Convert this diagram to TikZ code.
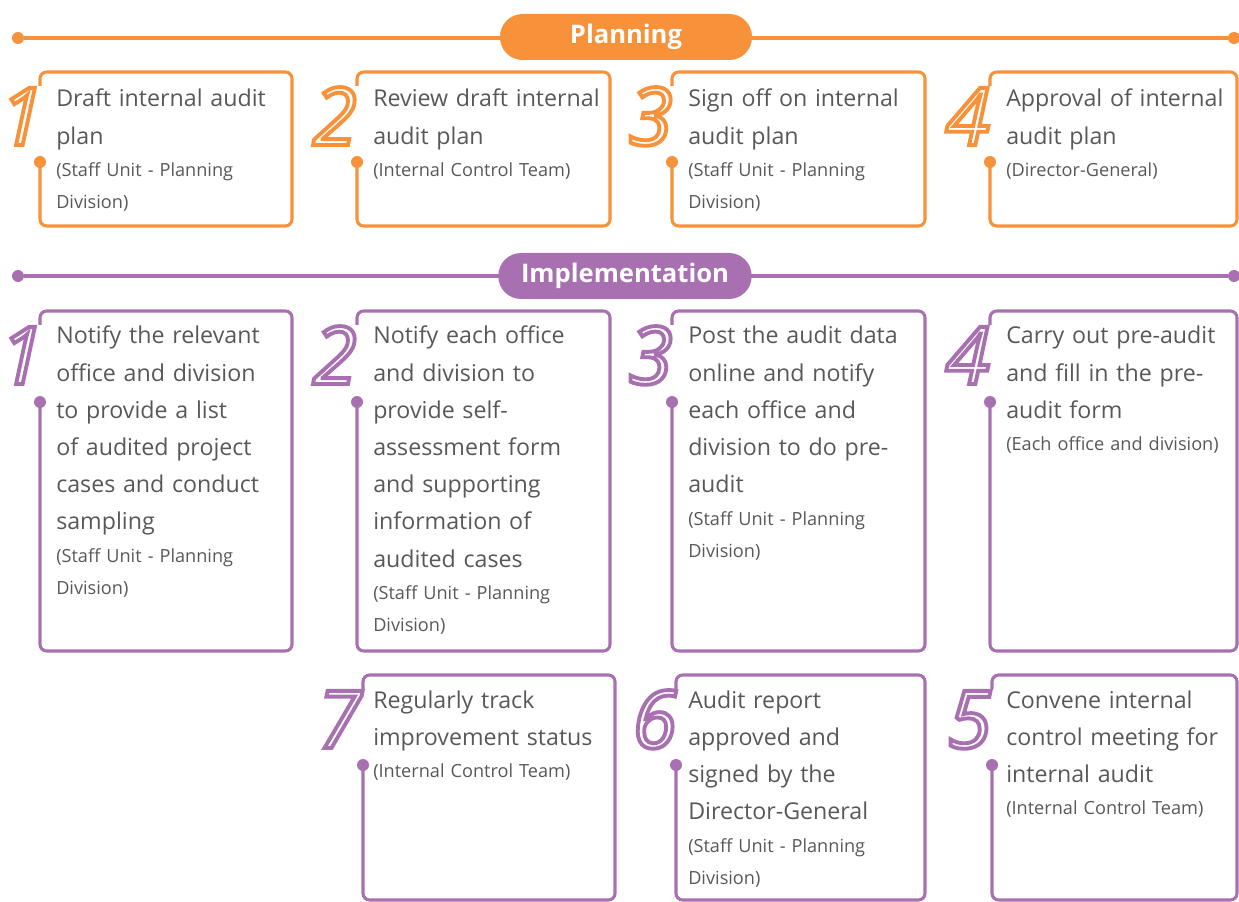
\documentclass[tikz,border=0pt]{standalone}
\usepackage{fontspec}
\setmainfont{Open Sans}
\newfontfamily\numfont{Open Sans}
\usetikzlibrary{positioning}

\definecolor{planc}{RGB}{247,146,58}
\definecolor{implc}{RGB}{168,112,176}
\definecolor{txtc}{RGB}{88,88,88}

\newcommand{\stepfont}{\fontsize{17.4}{27.9}\selectfont}
\newcommand{\whofont}{\fontsize{13.6}{24}\selectfont}
% hollow digit
\newcommand{\hollow}[1]{\special{pdf:literal direct 1 Tr 2.9 w}#1\special{pdf:literal direct 0 Tr}}
% frame of one step: colour, left, top, right, bottom, dot
\newcommand{\stepframe}[6]{%
  \draw[frame, #1] (#2,#6) -- (#2,#5) -- (#4,#5) -- (#4,#3) -- (#2,#3) -- (#2,#3+14);
  \fill[#1] (#2,#6) circle (6);}

\begin{document}
\begin{tikzpicture}[x=0.75pt, y=-0.75pt]
    \tikzstyle{frame}=[line width=2.3pt, rounded corners=5pt]
    \tikzstyle{dot}=[circle, inner sep=0pt, minimum size=9pt]
    \tikzstyle{phase}=[rectangle, rounded corners=17pt, minimum width=189pt, minimum height=34.5pt, text=white, font=\fontsize{19.2}{21}\selectfont\bfseries]
    \tikzstyle{num}=[anchor=base east, inner sep=0pt, font=\numfont\itshape\fontsize{60}{62}\selectfont]
    \tikzstyle{task}=[anchor=base west, inner sep=0pt, text width=190pt, align=left, text=txtc, font=\stepfont]
    \tikzstyle{who}=[inner sep=0pt, text width=190pt, align=left, text=txtc, font=\whofont]

    \useasboundingbox (0,0) rectangle (1239,902);
    \clip (0,0) rectangle (1239,902);

    % planning
    \node[dot, fill=planc] (pl-l) at (18,38) {};
    \node[dot, fill=planc] (pl-r) at (1234,38) {};
    \draw[planc, line width=2.3pt] (pl-l) -- (pl-r);
    \node[phase, fill=planc] (planning) at (626,37) {Planning};

    \stepframe{planc}{40}{72}{292}{226}{162}
    \stepframe{planc}{357}{72}{610}{226}{162}
    \stepframe{planc}{672}{72}{925}{226}{162}
    \stepframe{planc}{990}{72}{1237}{226}{162}

    \node[num, text=planc] (pn1) at (44,145) {\hollow{1}};
    \node[num, text=planc] (pn2) at (357,145) {\hollow{2}};
    \node[num, text=planc] (pn3) at (673,145) {\hollow{3}};
    \node[num, text=planc] (pn4) at (990,145) {\hollow{4}};

    \node[task] (pt1) at (56,107) {Draft internal audit\\plan\strut};
    \node[who, below=-1.2pt of pt1.south west, anchor=north west] (pw1) {\strut(Staff Unit - Planning\\Division)};
    \node[task] (pt2) at (373,107) {Review draft internal\\audit plan\strut};
    \node[who, below=-1.2pt of pt2.south west, anchor=north west] (pw2) {\strut(Internal Control Team)};
    \node[task] (pt3) at (688,107) {Sign off on internal\\audit plan\strut};
    \node[who, below=-1.2pt of pt3.south west, anchor=north west] (pw3) {\strut(Staff Unit - Planning\\Division)};
    \node[task] (pt4) at (1006,107) {Approval of internal\\audit plan\strut};
    \node[who, below=-1.2pt of pt4.south west, anchor=north west] (pw4) {\strut(Director-General)};

    % implementation
    \node[dot, fill=implc] (im-l) at (18,276) {};
    \node[dot, fill=implc] (im-r) at (1234,276) {};
    \draw[implc, line width=2.3pt] (im-l) -- (im-r);
    \node[phase, fill=implc, minimum width=190pt] (implementation) at (625,276) {Implementation};

    \stepframe{implc}{40}{311}{292}{651}{402}
    \stepframe{implc}{357}{311}{610}{651}{402}
    \stepframe{implc}{672}{311}{925}{651}{402}
    \stepframe{implc}{990}{311}{1237}{651}{402}
    \stepframe{implc}{363}{675}{615}{900}{765}
    \stepframe{implc}{676}{675}{925}{900}{765}
    \stepframe{implc}{992}{675}{1237}{900}{765}

    \node[num, text=implc] (in1) at (44,384) {\hollow{1}};
    \node[num, text=implc] (in2) at (357,384) {\hollow{2}};
    \node[num, text=implc] (in3) at (673,384) {\hollow{3}};
    \node[num, text=implc] (in4) at (990,384) {\hollow{4}};
    \node[num, text=implc] (in7) at (362,748) {\hollow{7}};
    \node[num, text=implc] (in6) at (677,748) {\hollow{6}};
    \node[num, text=implc] (in5) at (992,748) {\hollow{5}};

    \node[task] (it1) at (56,344) {Notify the relevant\\office and division\\to provide a list\\of audited project\\cases and conduct\\sampling\strut};
    \node[who, below=-1.2pt of it1.south west, anchor=north west] (iw1) {\strut(Staff Unit - Planning\\Division)};
    \node[task] (it2) at (373,344) {Notify each office\\and division to\\provide self-\\assessment form\\and supporting\\information of\\audited cases\strut};
    \node[who, below=-1.2pt of it2.south west, anchor=north west] (iw2) {\strut(Staff Unit - Planning\\Division)};
    \node[task] (it3) at (688,344) {Post the audit data\\online and notify\\each office and\\division to do pre-\\audit\strut};
    \node[who, below=-1.2pt of it3.south west, anchor=north west] (iw3) {\strut(Staff Unit - Planning\\Division)};
    \node[task] (it4) at (1006,344) {Carry out pre-audit\\and fill in the pre-\\audit form\strut};
    \node[who, below=-1.2pt of it4.south west, anchor=north west] (iw4) {\strut(Each office and division)};
    \node[task] (it7) at (373,708) {Regularly track\\improvement status\strut};
    \node[who, below=-1.2pt of it7.south west, anchor=north west] (iw7) {\strut(Internal Control Team)};
    \node[task] (it6) at (688,708) {Audit report\\approved and\\signed by the\\Director-General\strut};
    \node[who, below=-1.2pt of it6.south west, anchor=north west] (iw6) {\strut(Staff Unit - Planning\\Division)};
    \node[task] (it5) at (1006,708) {Convene internal\\control meeting for\\internal audit\strut};
    \node[who, below=-1.2pt of it5.south west, anchor=north west] (iw5) {\strut(Internal Control Team)};
\end{tikzpicture}
\end{document}
